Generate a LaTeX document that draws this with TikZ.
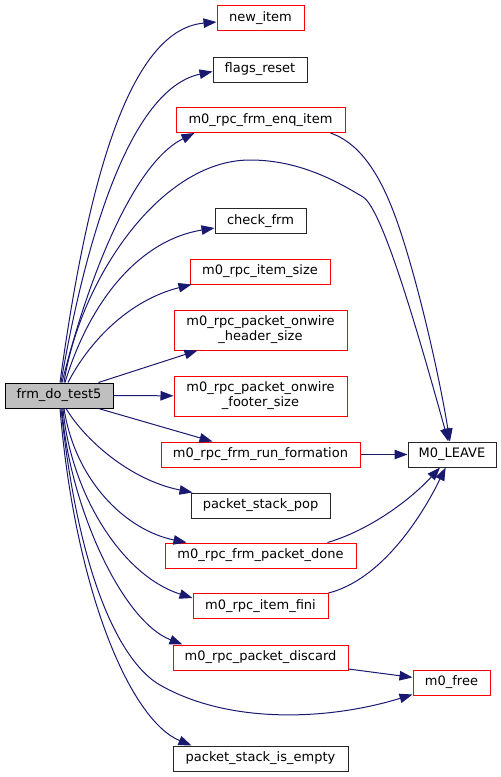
\documentclass[tikz,border=0pt]{standalone}
\usepackage{fontspec}
\setmainfont{DejaVu Sans}
\usetikzlibrary{arrows.meta,calc}
\definecolor{navyc}{HTML}{191970}
\definecolor{redc}{HTML}{FF0000}
\definecolor{grayfill}{HTML}{BFBFBF}
\begin{document}
\begin{tikzpicture}[x=1pt,y=-1pt,
  box/.style={draw, line width=1pt, inner sep=0pt, minimum height=25pt,
    font=\fontsize{13}{15}\selectfont, align=center},
  redbox/.style={box, draw=redc},
  blackbox/.style={box, draw=black!85},
  edge/.style={draw=navyc, line width=1pt,
    -{Triangle[length=13pt,width=9.5pt,fill=navyc]}}]
\useasboundingbox (0,0) rectangle (501,777);

% caller
\node[box, draw=black, fill=grayfill, minimum width=108pt] (frm) at (59,395.5) {frm\_do\_test5};

% callees
\node[redbox, minimum width=87pt] (newitem) at (260.5,18) {new\_item};
\node[blackbox, minimum width=94pt] (flags) at (260,69.5) {flags\_reset};
\node[redbox, minimum width=169pt] (enq) at (260.5,120) {m0\_rpc\_frm\_enq\_item};
\node[blackbox, minimum width=91pt] (check) at (260.5,221) {check\_frm};
\node[redbox, minimum width=140pt] (isize) at (260,271.5) {m0\_rpc\_item\_size};
\node[redbox, minimum width=173pt, minimum height=40pt] (header) at (260.5,330) {m0\_rpc\_packet\_onwire\\\_header\_size};
\node[redbox, minimum width=173pt, minimum height=40pt] (footer) at (260.5,396) {m0\_rpc\_packet\_onwire\\\_footer\_size};
\node[redbox, minimum width=199pt] (runf) at (260.5,454.5) {m0\_rpc\_frm\_run\_formation};
\node[blackbox, minimum width=139pt] (pop) at (260.5,505.5) {packet\_stack\_pop};
\node[redbox, minimum width=191pt] (done) at (260.5,555.5) {m0\_rpc\_frm\_packet\_done};
\node[redbox, minimum width=135pt] (fini) at (260.5,606) {m0\_rpc\_item\_fini};
\node[redbox, minimum width=175pt] (discard) at (260.5,657.5) {m0\_rpc\_packet\_discard};
\node[blackbox, minimum width=175pt] (empty) at (260.5,758.5) {packet\_stack\_is\_empty};
\node[blackbox, minimum width=88pt] (leave) at (452,454.5) {M0\_LEAVE};
\node[redbox, minimum width=77pt] (mfree) at (451.5,682.5) {m0\_free};

% edges from frm_do_test5 (upper)
\draw[edge] ($(frm.north)+(1,0)$) .. controls (85,200) and (125,30) .. ($(newitem.west)+(0,4)$);
\draw[edge] ($(frm.north)+(2,0)$) .. controls (82,260) and (125,90) .. ($(flags.west)+(0,2)$);
\draw[edge] ($(frm.north)+(3,0)$) .. controls (85,290) and (130,165) .. ($(enq.south west)+(19,0)$);
\draw[edge] ($(frm.north)+(5,0)$) .. controls (80,280) and (160,160) .. (250,160)
   .. controls (300,160) and (338,182) .. (363,197)
   .. controls (383,209) and (420,340) .. (leave);
\draw[edge] ($(frm.north)+(6,0)$) .. controls (90,300) and (140,240) .. ($(check.west)+(0,7)$);
\draw[edge] ($(frm.north)+(9,0)$) .. controls (90,340) and (130,300) .. ($(isize.south west)+(2,0)$);
\draw[edge] ($(frm.north east)+(-15,0)$) -- ($(header.south west)+(24,0)$);
\draw[edge] (frm) -- (footer);
\draw[edge] ($(frm.south east)+(-15,0)$) -- ($(runf.north west)+(52,0)$);

% edges from frm_do_test5 (lower)
\draw[edge] ($(frm.south)+(7,0)$) .. controls (85,440) and (130,480) .. ($(pop.north west)+(2,0)$);
\draw[edge] ($(frm.south)+(5,0)$) .. controls (75,480) and (125,530) .. ($(done.north west)+(22,0)$);
\draw[edge] ($(frm.south)+(4,0)$) .. controls (70,490) and (120,575) .. ($(fini.west)+(0,-8)$);
\draw[edge] ($(frm.south)+(3,0)$) .. controls (68,500) and (120,620) .. ($(discard.north west)+(10,0)$);
\draw[edge] ($(frm.south)+(2,0)$) .. controls (80,590) and (125,665) .. (160,685)
   .. controls (230,725) and (330,720) .. ($(mfree.south west)+(0,-1)$);
\draw[edge] ($(frm.south)+(1,0)$) .. controls (75,590) and (130,720) .. ($(empty.north west)+(19,0)$);

% edges into M0_LEAVE
\draw[edge] ($(enq.south east)+(-15,0)$) .. controls (365,145) and (385,185) .. (400,230)
   .. controls (420,290) and (440,380) .. (leave);
\draw[edge] (runf) -- (leave);
\draw[edge] ($(done.north east)+(-29,0)$) .. controls (370,530) and (410,500) .. (leave);
\draw[edge] (fini.north east) .. controls (380,580) and (420,520) .. (leave);

% discard -> free
\draw[edge] (discard) -- (mfree);
\end{tikzpicture}
\end{document}
